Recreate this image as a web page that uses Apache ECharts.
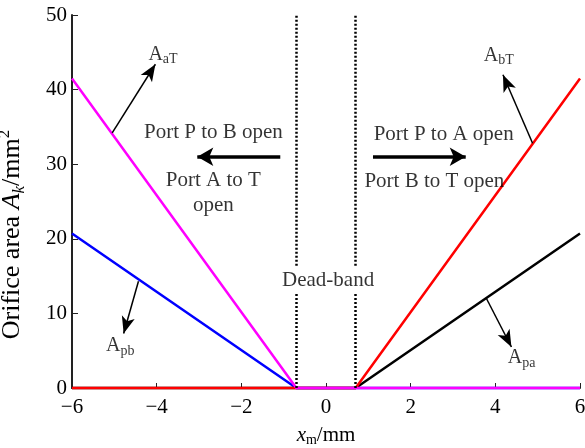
<!DOCTYPE html>
<html><head><meta charset="utf-8">
<script src="https://cdn.jsdelivr.net/npm/echarts@6/dist/echarts.min.js"></script>
<style>html,body{margin:0;padding:0;background:#fff}#c{width:585px;height:448px}</style>
</head><body><div id="c"></div>
<script>
// ---- data ----
const xTicks = [-6, -4, -2, 0, 2, 4, 6];
const yTicks = [0, 10, 20, 30, 40, 50];
const deadBand = [-0.7, 0.7];
const deadBandGap = [12.6, 16.4];   // where the "Dead-band" text interrupts the dotted lines
const xAaT = [-6, -0.7, 6];  const yAaT = [41.5, 0, 0];
const xApb = [-6, -0.7, 6];  const yApb = [20.7, 0, 0];
const xAbT = [-6, 0.7, 6];   const yAbT = [0, 0, 41.5];
const xApa = [-6, 0.7, 6];   const yApa = [0, 0, 20.7];

// annotation arrows (from -> to, in data units)
const thinArrows = [
  [[-5.05, 34.2], [-4.03, 43.4]],   // A_aT
  [[4.88, 32.8], [4.18, 42.0]],     // A_bT
  [[3.79, 12.0], [4.38, 5.5]],      // A_pa
  [[-4.43, 14.3], [-4.78, 7.3]]     // A_pb
];
const thickArrows = [
  [[-1.08, 31.0], [-3.04, 31.0]],
  [[1.11, 31.0], [3.30, 31.0]]
];
// labels: [x, y, text]
const labels = [
  [-3.85, 44.6, '{a|A}{s|aT}'],
  [4.08, 44.4, '{a|A}{s|bT}'],
  [4.62, 3.9, '{a|A}{s|pa}'],
  [-4.86, 5.5, '{a|A}{s|pb}'],
  [-2.66, 34.2, '{t|Port P to B open}'],
  [-2.66, 26.2, '{t|Port A to T}\n{t|open}'],
  [2.78, 34.0, '{t|Port P to A open}'],
  [2.56, 27.7, '{t|Port B to T open}'],
  [0.05, 14.4, '{t|Dead-band}']
];

const F = 'Liberation Serif';
const zip = (xs, ys) => xs.map((x, i) => [x, ys[i]]);
const minus = v => String(v).replace('-', '\u2212');

const rich = {
  a: {fontFamily: F, fontSize: 20, color: '#000', lineHeight: 22, verticalAlign: 'top'},
  s: {fontFamily: F, fontSize: 14, color: '#000', lineHeight: 14, padding: [10, 0, 0, 0], verticalAlign: 'bottom'},
  t: {fontFamily: F, fontSize: 21, color: '#000', lineHeight: 25}
};

const lineSeries = (name, data, color) => ({
  name, type: 'line', data, symbol: 'none', clip: false,
  lineStyle: {color, width: 2.5}, silent: true, z: 3
});

const ymin = yTicks[0], ymax = yTicks[yTicks.length - 1];
const deadSegments = [];
deadBand.forEach(x => {
  deadSegments.push([{coord: [x, ymin]}, {coord: [x, deadBandGap[0]]}]);
  deadSegments.push([{coord: [x, deadBandGap[1]]}, {coord: [x, ymax]}]);
});

const chart = echarts.init(document.getElementById('c'));
chart.setOption({
  animation: false,
  backgroundColor: '#fff',
  grid: {left: 72, right: 5, top: 15, bottom: 60, containLabel: false, outerBoundsMode: 'none'},
  xAxis: {
    type: 'value', min: xTicks[0], max: xTicks[xTicks.length - 1], interval: 2,
    name: '{i|x}{sub|m}{n|/mm}', nameLocation: 'middle', nameGap: 34,
    nameTextStyle: {rich: {
      i: {fontFamily: F, fontSize: 21, fontStyle: 'italic', color: '#000', lineHeight: 22, verticalAlign: 'top'},
      sub: {fontFamily: F, fontSize: 14, color: '#000', lineHeight: 14, padding: [10, 0, 0, 0], verticalAlign: 'bottom'},
      n: {fontFamily: F, fontSize: 21, color: '#000', lineHeight: 22, verticalAlign: 'top'}
    }},
    axisLine: {onZero: false, lineStyle: {color: '#222', width: 2}},
    axisTick: {inside: true, length: 5, lineStyle: {color: '#222', width: 1}},
    axisLabel: {fontFamily: F, fontSize: 21, color: '#000', margin: 9, formatter: minus},
    splitLine: {show: false}
  },
  yAxis: {
    type: 'value', min: ymin, max: ymax, interval: 10,
    name: '{n|Orifice area }{i|A}{is|k}{n|/mm}{sup|2}', nameLocation: 'middle', nameRotate: 90, nameGap: 44,
    nameTextStyle: {padding: [0, 66, 0, 0], rich: {
      n: {fontFamily: F, fontSize: 26, color: '#000', lineHeight: 32, verticalAlign: 'middle'},
      i: {fontFamily: F, fontSize: 26, fontStyle: 'italic', color: '#000', lineHeight: 32, verticalAlign: 'middle'},
      is: {fontFamily: F, fontSize: 17, fontStyle: 'italic', color: '#000', lineHeight: 17, padding: [13, 0, 0, 0], verticalAlign: 'bottom'},
      sup: {fontFamily: F, fontSize: 17, color: '#000', lineHeight: 17, padding: [0, 0, 13, 0], verticalAlign: 'top'}
    }},
    axisLine: {show: true, onZero: false, lineStyle: {color: '#222', width: 2}},
    axisTick: {show: true, inside: true, length: 6, lineStyle: {color: '#222', width: 1}},
    axisLabel: {fontFamily: F, fontSize: 21, color: '#000', margin: 5},
    splitLine: {show: false}
  },
  series: [
    lineSeries('Apb', zip(xApb, yApb), '#0000ff'),
    lineSeries('Apa', zip(xApa, yApa), '#000000'),
    lineSeries('AbT', zip(xAbT, yAbT), '#ff0000'),
    lineSeries('AaT', zip(xAaT, yAaT), '#ff00ff'),
    {
      type: 'line', data: [], silent: true, z: 2,
      markLine: {
        silent: true, symbol: ['none', 'none'], label: {show: false},
        lineStyle: {color: '#000', width: 2.5, type: [2, 2]},
        emphasis: {disabled: true},
        data: deadSegments
      }
    },
    {
      type: 'line', data: [], silent: true, z: 5,
      markLine: {
        silent: true, symbol: ['none', 'arrow'], symbolSize: [10, 17], label: {show: false},
        lineStyle: {color: '#000', width: 1.5, type: 'solid'},
        emphasis: {disabled: true},
        data: thinArrows.map(([a, b]) => [{coord: a}, {coord: b}])
      }
    },
    {
      type: 'line', data: [], silent: true, z: 5,
      markLine: {
        silent: true, symbol: ['none', 'arrow'], symbolSize: [14, 16], label: {show: false},
        lineStyle: {color: '#000', width: 3.5, type: 'solid'},
        emphasis: {disabled: true},
        data: thickArrows.map(([a, b]) => [{coord: a}, {coord: b}])
      }
    },
    {
      type: 'scatter', symbolSize: 0, silent: true, z: 10, clip: false,
      data: labels.map(l => ({value: [l[0], l[1]], label: {formatter: l[2]}})),
      label: {show: true, position: 'inside', align: 'center', verticalAlign: 'middle', rich}
    }
  ]
});
</script>
</body></html>
